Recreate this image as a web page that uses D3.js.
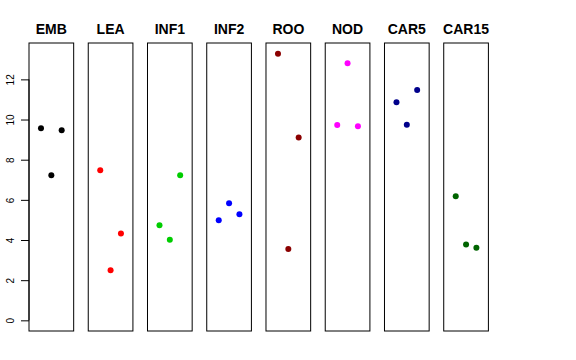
<!DOCTYPE html>
<html>
<head>
<meta charset="utf-8">
<script src="https://cdn.jsdelivr.net/npm/d3@7"></script>
<style>
  html, body { margin: 0; padding: 0; background: #fff; }
  svg { display: block; }
</style>
</head>
<body>
<svg id="chart" width="576" height="360"></svg>
<script>
const categories = ["EMB", "LEA", "INF1", "INF2", "ROO", "NOD", "CAR5", "CAR15"];
const replicates = [1, 2, 3];
const values = [
  [9.56, 7.22, 9.46],
  [7.48, 2.50, 4.33],
  [4.73, 4.01, 7.22],
  [4.98, 5.83, 5.28],
  [13.28, 3.55, 9.11],
  [9.73, 12.80, 9.66],
  [10.86, 9.74, 11.47],
  [6.18, 3.78, 3.62]
];
const colors = ["#000000", "#FF0000", "#00CD00", "#0000FF", "#8B0000", "#FF00FF", "#00008B", "#006400"];
const yTicks = [0, 2, 4, 6, 8, 10, 12];

(function() {
const svg = d3.select("#chart");
const plotTop = 43, plotBottom = 331;
const yMax = d3.max(values.flat());
const pad = 0.04 * yMax;
const y = d3.scaleLinear().domain([-pad, yMax + pad]).range([plotBottom, plotTop]);

const band = d3.scaleBand().domain(categories).range([29, 488.4]).paddingInner(0.246).paddingOuter(0);
const w = band.bandwidth();
const xIn = d3.scaleLinear().domain([-0.16, 4.16]).range([0, w]);

categories.forEach((c, i) => {
  const g = svg.append("g").attr("transform", `translate(${band(c)},0)`);
  g.append("rect")
    .attr("x", 0).attr("y", plotTop).attr("width", w).attr("height", plotBottom - plotTop)
    .attr("fill", "none").attr("stroke", "#000").attr("stroke-width", 1);
  g.selectAll("circle").data(values[i]).enter().append("circle")
    .attr("cx", (d, j) => xIn(replicates[j]))
    .attr("cy", d => y(d))
    .attr("r", 3)
    .attr("fill", colors[i]);
  g.append("text")
    .attr("x", w / 2).attr("y", 34)
    .attr("text-anchor", "middle")
    .attr("font-family", "Liberation Sans, Arial, sans-serif")
    .attr("font-weight", "bold")
    .attr("font-size", 14)
    .text(c);
});

const axis = d3.axisLeft(y).tickValues(yTicks).tickSize(8).tickPadding(4).tickFormat(d3.format("d"));
const ag = svg.append("g").attr("transform", `translate(${band(categories[0])},0)`).call(axis);
ag.select(".domain").attr("d", `M0,${y(0)}V${y(12)}`).attr("stroke", "#000");
ag.selectAll(".tick line").attr("stroke", "#000");
ag.selectAll(".tick text")
  .attr("font-family", "Liberation Sans, Arial, sans-serif")
  .attr("font-size", 10)
  .attr("fill", "#000")
  .attr("x", null)
  .attr("text-anchor", "middle")
  .attr("transform", "translate(-19,0) rotate(-90)")
  .attr("dy", "0.35em");
})();
</script>
</body>
</html>
